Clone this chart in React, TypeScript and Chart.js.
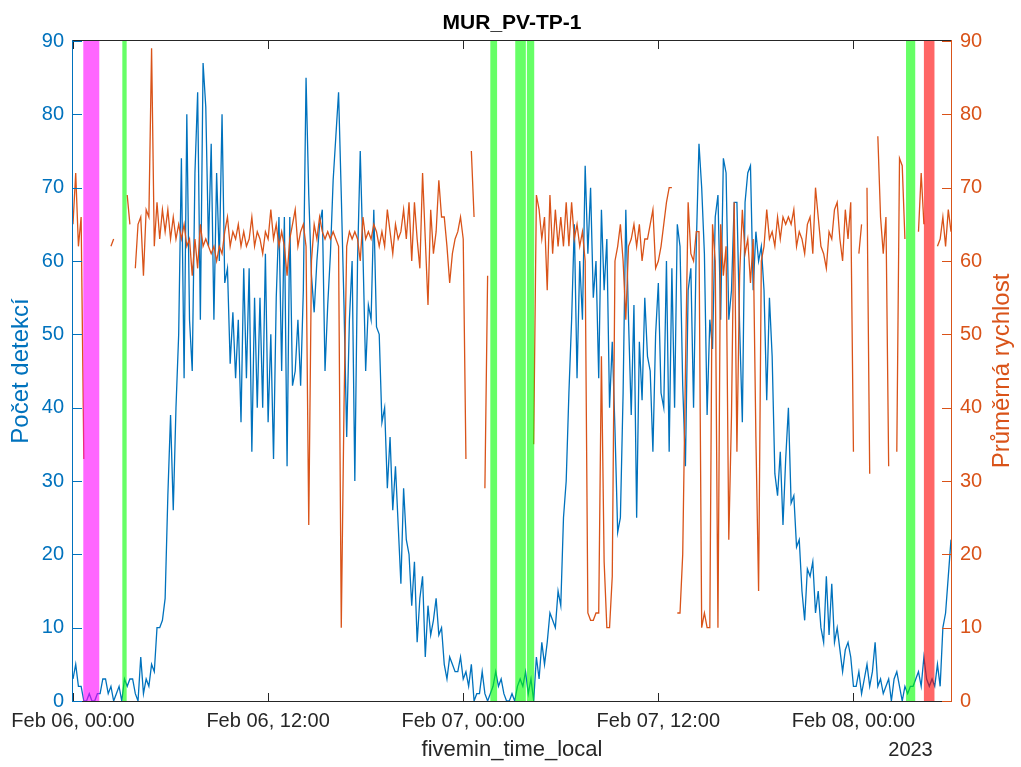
import { useEffect, useRef } from "react";
import { Chart, registerables } from "chart.js";

Chart.register(...registerables);

const BLUE = "#0072BD";
const ORANGE = "#D95319";
const AXIS = "#262626";
const FONT = "'Liberation Sans', Arial, Helvetica, sans-serif";

// Počet detekcí, one value every 10 minutes from Feb 06 00:00
const detections = [
  3, 5, 2, 2, 0, 0, 1, 0, 0, 1,
  1, 3, 3, 1, 2, 0, 1, 2, 0, 3,
  2, 3, 3, 1, 0, 6, 1, 3, 2, 5,
  4, 10, 10, 11, 14, 28, 39, 26, 40, 50,
  74, 44, 80, 52, 45, 72, 83, 52, 87, 81,
  62, 76, 52, 72, 60, 80, 57, 59, 46, 53,
  44, 52, 38, 59, 44, 59, 34, 55, 40, 55,
  40, 61, 38, 50, 33, 55, 66, 45, 66, 32,
  66, 43, 45, 52, 43, 56, 85, 69, 58, 53,
  60, 65, 67, 45, 54, 61, 71, 77, 83, 69,
  54, 36, 52, 60, 30, 60, 75, 61, 45, 54,
  52, 67, 51, 50, 38, 40, 29, 36, 26, 32,
  24, 16, 29, 22, 20, 13, 19, 8, 14, 17,
  6, 13, 9, 11, 14, 9, 10, 5, 3, 6,
  5, 4, 4, 6, 3, 4, 2, 5, 0, 1,
  1, 4, 1, 0, 1, 2, 4, 2, 3, 1,
  0, 0, 1, 0, 2, 3, 2, 4, 1, 3,
  0, 6, 3, 8, 5, 8, 12, 11, 10, 15,
  13, 25, 30, 42, 52, 65, 44, 60, 52, 73,
  61, 70, 55, 60, 44, 67, 56, 63, 40, 49,
  37, 23, 25, 42, 67, 52, 39, 54, 25, 49,
  41, 55, 47, 45, 34, 50, 57, 42, 40, 60,
  34, 59, 40, 65, 62, 43, 32, 56, 59, 40,
  62, 76, 70, 61, 39, 52, 48, 66, 69, 52,
  74, 72, 52, 56, 68, 68, 51, 38, 68, 72,
  73, 56, 64, 60, 62, 56, 41, 55, 47, 31,
  28, 34, 24, 33, 40, 27, 28, 21, 22, 15,
  11, 18, 17, 19, 12, 15, 10, 8, 17, 9,
  16, 8, 10, 7, 4, 7, 8, 6, 2, 2,
  4, 1, 3, 5, 2, 4, 8, 2, 3, 1,
  2, 3, 0, 3, 4, 2, 0, 2, 1, 2,
  2, 3, 4, 2, 6, 3, 2, 3, 2, 5,
  2, 10, 12, 17, 22,
];

// Průměrná rychlost (null = no data)
const speed = [
  65, 72, 62, 66, 33, null, null, null, null, null,
  null, null, null, null, 62, 63, null, null, null, null,
  69, 65, null, 59, 65, 66, 58, 67, 66, 89,
  62, 68, 63, 67, 64, 67, 63, 66, 63, 65,
  63, 65, 62, 63, 58, 63, 59, 65, 62, 63,
  62, 61, 62, 60, 62, 61, 64, 66, 62, 64,
  63, 65, 62, 64, 62, 63, 66, 62, 64, 63,
  61, 64, 63, 67, 63, 65, 62, 64, 62, 58,
  63, 65, 67, 62, 64, 65, 62, 24, 60, 65,
  63, 66, 64, 63, 64, 63, 64, 63, 62, 10,
  40, 62, 64, 63, 64, 63, 60, 66, 63, 64,
  63, 65, 64, 62, 64, 62, 67, 64, 61, 65,
  63, 64, 67, 63, 68, 60, 68, 63, 59, 72,
  63, 54, 67, 61, 64, 71, 66, 66, 62, 57,
  61, 63, 64, 66, 63, 33, null, 75, 66, null,
  null, null, 29, 58, null, null, null, null, null, null,
  null, null, null, null, null, null, null, null, null, null,
  35, 69, 67, 63, 66, 56, 69, 61, 67, 62,
  66, 62, 68, 62, 68, 63, 65, 62, 64, 60,
  12, 11, 11, 12, 12, 47, 19, 10, 10, 17,
  60, 62, 65, 60, 52, 62, 63, 65, 62, 65,
  60, 63, 63, 65, 67, 59, 60, 62, 65, 68,
  70, 70, null, 12, 12, 20, 45, 68, 61, 60,
  64, 64, 10, 12, 10, 10, 65, 60, 10, 65,
  58, 62, 22, 39, 68, 34, 58, 67, 61, 63,
  57, 63, 36, 15, 60, 62, 67, 63, 64, 62,
  66, 63, 66, 65, 66, 65, 67, 62, 64, 63,
  61, 65, 66, 61, 70, 66, 62, 61, 59, 64,
  63, 67, 68, 63, 60, 67, 63, 68, 34, null,
  61, 65, null, 70, 31, null, null, 77, 66, 61,
  66, 32, null, null, 34, 74, 73, 63, null, null,
  null, null, 64, 72, 65, null, null, null, null, 62,
  63, 66, 62, 67, 64,
];

const STEP_MIN = 10;
const timeMinutes = detections.map((_, i) => i * STEP_MIN);

const xTickMinutes = [0, 720, 1440, 2160, 2880];
const xTickLabels = ["Feb 06, 00:00", "Feb 06, 12:00", "Feb 07, 00:00", "Feb 07, 12:00", "Feb 08, 00:00"];
const yTicks = [0, 10, 20, 30, 40, 50, 60, 70, 80, 90];

// highlighted intervals (minutes from Feb 06 00:00)
const bandStart = [38, 182, 1540, 1632, 1675, 3074, 3140];
const bandEnd = [97, 198, 1565, 1671, 1702, 3108, 3179];
const bandColor = [
  "rgba(255,0,255,0.6)",
  "rgba(0,255,0,0.6)",
  "rgba(0,255,0,0.6)",
  "rgba(0,255,0,0.6)",
  "rgba(0,255,0,0.6)",
  "rgba(0,255,0,0.6)",
  "rgba(255,0,0,0.6)",
];

const decorPlugin = {
  id: "decor",
  afterDatasetsDraw(chart: any) {
    const { ctx, chartArea } = chart;
    const xs = chart.scales.x;
    ctx.save();
    ctx.beginPath();
    ctx.rect(chartArea.left, chartArea.top, chartArea.right - chartArea.left, chartArea.bottom - chartArea.top);
    ctx.clip();
    bandStart.forEach((s, i) => {
      const x0 = xs.getPixelForValue(s);
      const x1 = xs.getPixelForValue(bandEnd[i]);
      ctx.fillStyle = bandColor[i];
      ctx.fillRect(x0, chartArea.top, x1 - x0, chartArea.bottom - chartArea.top);
    });
    ctx.restore();
  },
  afterDraw(chart: any) {
    const { ctx, chartArea } = chart;
    const { left, right, top, bottom } = chartArea;
    const xs = chart.scales.x;
    const yl = chart.scales.y;
    const yr = chart.scales.y2;
    ctx.save();
    ctx.lineWidth = 1;
    // x axis lines (bottom and top)
    ctx.strokeStyle = AXIS;
    ctx.beginPath();
    ctx.moveTo(left - 1, bottom + 0.5);
    ctx.lineTo(right + 1, bottom + 0.5);
    ctx.moveTo(left - 1, top - 0.5);
    ctx.lineTo(right + 1, top - 0.5);
    xTickMinutes.forEach((t) => {
      const x = Math.round(xs.getPixelForValue(t)) + 0.5;
      ctx.moveTo(x, bottom);
      ctx.lineTo(x, bottom - 8);
      ctx.moveTo(x, top);
      ctx.lineTo(x, top + 8);
    });
    ctx.stroke();
    // left axis
    ctx.strokeStyle = BLUE;
    ctx.beginPath();
    ctx.moveTo(left - 0.5, top - 1);
    ctx.lineTo(left - 0.5, bottom + 1);
    yTicks.forEach((v) => {
      const y = Math.round(yl.getPixelForValue(v)) + 0.5;
      ctx.moveTo(left, y);
      ctx.lineTo(left + 9, y);
    });
    ctx.stroke();
    // right axis
    ctx.strokeStyle = ORANGE;
    ctx.beginPath();
    ctx.moveTo(right + 0.5, top - 1);
    ctx.lineTo(right + 0.5, bottom + 1);
    yTicks.forEach((v) => {
      const y = Math.round(yr.getPixelForValue(v)) + 0.5;
      ctx.moveTo(right, y);
      ctx.lineTo(right - 9, y);
    });
    ctx.stroke();

    // texts
    const cx = (left + right) / 2;
    ctx.textAlign = "center";
    ctx.textBaseline = "middle";
    ctx.fillStyle = "#000000";
    ctx.font = `bold 21px ${FONT}`;
    ctx.fillText("MUR_PV-TP-1", cx, 23);

    ctx.fillStyle = AXIS;
    ctx.font = `22px ${FONT}`;
    ctx.fillText("fivemin_time_local", cx, 750);
    ctx.font = `20px ${FONT}`;
    ctx.fillText("2023", 910.5, 750);

    const cy = (top + bottom) / 2;
    ctx.font = `24px ${FONT}`;
    ctx.save();
    ctx.translate(21, cy);
    ctx.rotate(-Math.PI / 2);
    ctx.fillStyle = BLUE;
    ctx.fillText("Počet detekcí", 0, 0);
    ctx.restore();

    ctx.save();
    ctx.translate(1002, cy);
    ctx.rotate(-Math.PI / 2);
    ctx.fillStyle = ORANGE;
    ctx.fillText("Průměrná rychlost", 0, 0);
    ctx.restore();

    ctx.restore();
  },
};

export default function App() {
  const canvasRef = useRef<HTMLCanvasElement | null>(null);

  useEffect(() => {
    document.body.style.margin = "0";
    document.body.style.overflow = "hidden";
    const canvas = canvasRef.current;
    if (!canvas) return;
    const chart = new Chart(canvas, {
      type: "line",
      data: {
        datasets: [
          {
            label: "Průměrná rychlost",
            data: timeMinutes.map((t, i) => ({ x: t, y: speed[i] })),
            yAxisID: "y2",
            borderColor: ORANGE,
            backgroundColor: ORANGE,
            borderWidth: 1.3,
            pointRadius: 0,
            spanGaps: false,
            tension: 0,
            order: 0,
          },
          {
            label: "Počet detekcí",
            data: timeMinutes.map((t, i) => ({ x: t, y: detections[i] })),
            yAxisID: "y",
            borderColor: BLUE,
            backgroundColor: BLUE,
            borderWidth: 1.3,
            pointRadius: 0,
            spanGaps: false,
            tension: 0,
            order: 1,
          },
        ],
      },
      options: {
        animation: false,
        responsive: false,
        devicePixelRatio: 1,
        layout: { padding: { top: 41, left: 0, right: 0, bottom: 0 } },
        plugins: {
          legend: { display: false },
          tooltip: { enabled: false },
          title: { display: false },
        },
        scales: {
          x: {
            type: "linear",
            min: 0,
            max: 3240,
            afterBuildTicks: (scale: any) => {
              scale.ticks = xTickMinutes.map((v) => ({ value: v }));
            },
            afterFit: (scale: any) => {
              scale.height = 66;
            },
            grid: { display: false, drawTicks: false },
            border: { display: false },
            ticks: {
              autoSkip: false,
              maxRotation: 0,
              minRotation: 0,
              padding: 8,
              color: AXIS,
              font: { family: FONT, size: 20 },
              callback: (value: any) => {
                const idx = xTickMinutes.indexOf(Number(value));
                return idx >= 0 ? xTickLabels[idx] : "";
              },
            },
          },
          y: {
            type: "linear",
            position: "left",
            min: 0,
            max: 90,
            afterBuildTicks: (scale: any) => {
              scale.ticks = yTicks.map((v) => ({ value: v }));
            },
            afterFit: (scale: any) => {
              scale.width = 73;
            },
            grid: { display: false, drawTicks: false },
            border: { display: false },
            ticks: {
              padding: 9,
              color: BLUE,
              font: { family: FONT, size: 20 },
            },
          },
          y2: {
            type: "linear",
            position: "right",
            min: 0,
            max: 90,
            afterBuildTicks: (scale: any) => {
              scale.ticks = yTicks.map((v) => ({ value: v }));
            },
            afterFit: (scale: any) => {
              scale.width = 70;
            },
            grid: { display: false, drawTicks: false },
            border: { display: false },
            ticks: {
              padding: 9,
              color: ORANGE,
              font: { family: FONT, size: 20 },
            },
          },
        },
      },
      plugins: [decorPlugin],
    });
    return () => chart.destroy();
  }, []);

  return (
    <div style={{ position: "absolute", left: 0, top: 0, width: 1021, height: 767, background: "#fff" }}>
      <canvas ref={canvasRef} width={1021} height={767} style={{ width: 1021, height: 767, display: "block" }} />
    </div>
  );
}
